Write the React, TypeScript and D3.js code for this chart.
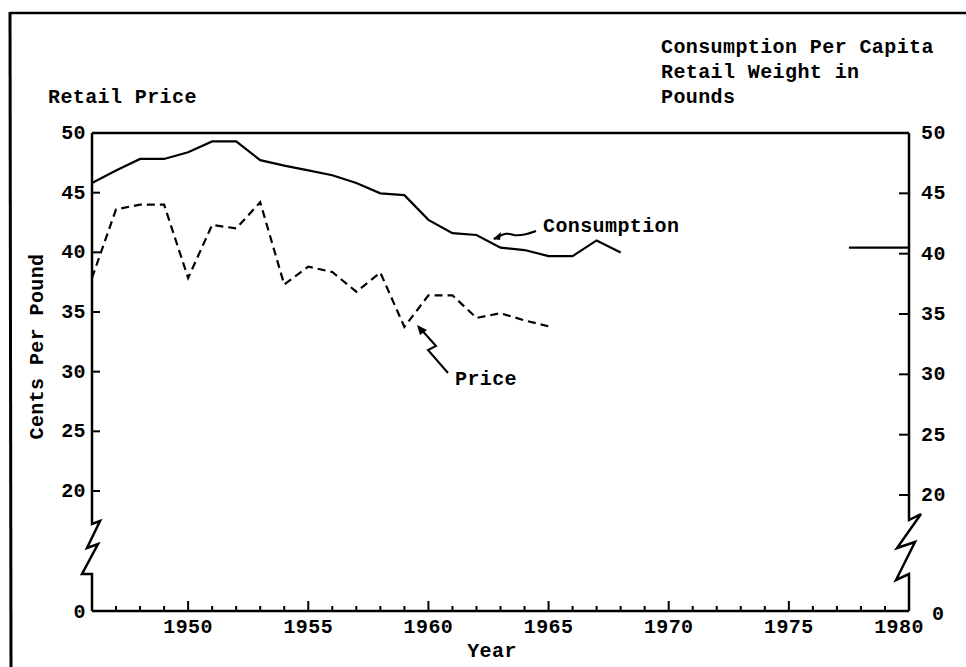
import React from "react";
import * as d3 from "d3";

// ---- data ----
const priceYears = [1946,1947,1948,1949,1950,1951,1952,1953,1954,1955,1956,1957,1958,1959,1960,1961,1962,1963,1964,1965];
const priceValues = [37.85,43.6,44.0,44.0,37.85,42.3,42.0,44.2,37.3,38.8,38.35,36.7,38.3,33.75,36.4,36.4,34.5,34.9,34.3,33.8];

const consYears = [1946,1947,1948,1949,1950,1951,1952,1953,1954,1955,1956,1957,1958,1959,1960,1961,1962,1963,1964,1965,1966,1967,1968];
const consValues = [45.85,46.9,47.85,47.85,48.4,49.3,49.3,47.75,47.3,46.9,46.5,45.85,45.0,44.85,42.8,41.7,41.55,40.5,40.3,39.8,39.8,41.1,40.1];

const projYears = [1977.5, 1980];
const projValues = [40.5, 40.5];

const yTicks = [20, 25, 30, 35, 40, 45, 50];
const xLabelYears = [1950, 1955, 1960, 1965, 1970, 1975, 1980];
const xMinorYears = d3.range(1947, 1980);

const FONT = "'Liberation Mono', 'DejaVu Sans Mono', monospace";

export default function App() {
  const W = 966, H = 667;
  const x = d3.scaleLinear().domain([1946, 1980]).range([92, 909]);
  const yL = d3.scaleLinear().domain([20, 50]).range([491, 133]);
  const yR = d3.scaleLinear().domain([20, 50]).range([495, 133]);
  const baseY = 611;
  const x0 = x(1946), x1 = x(1980);

  const priceLine = d3.line<number>().x((_, i) => x(priceYears[i])).y((v) => yL(v));
  const consLine = d3.line<number>().x((_, i) => x(consYears[i])).y((v) => yR(v));
  const projLine = d3.line<number>().x((_, i) => x(projYears[i])).y((v) => yR(v));

  const leftAxisPath = `M${x0},${yL(50)} L${x0},524 L${x0 + 8},521 L${x0 - 5},548 L${x0 + 6},544 L${x0 - 10},574 L${x0},574 L${x0},${baseY}`;
  const rightAxisPath = `M${x1},${yR(50)} L${x1},520 L${x1 + 12},514 L${x1 - 12},548 L${x1 + 6},542 L${x1 - 13},580 L${x1},574 L${x1},${baseY}`;

  const txt = { fontFamily: FONT, fontSize: 20, letterSpacing: 0.4, fontWeight: "bold", fill: "#000" } as const;

  return (
    <svg width={W} height={H} style={{ position: "absolute", left: 0, top: 0, background: "#fff" }}>
      <rect x={0} y={0} width={W} height={H} fill="#fff" />
      {/* outer frame */}
      <line x1={10} y1={13} x2={W} y2={13} stroke="#000" strokeWidth={2.5} />
      <line x1={10} y1={12} x2={11} y2={H} stroke="#000" strokeWidth={3} />

      {/* titles */}
      <text x={48} y={103} {...txt}>Retail Price</text>
      <text x={661} y={53} {...txt}>Consumption Per Capita</text>
      <text x={661} y={78} {...txt}>Retail Weight in</text>
      <text x={661} y={103} {...txt}>Pounds</text>

      {/* plot frame */}
      <line x1={x0} y1={yL(50)} x2={x1} y2={yL(50)} stroke="#000" strokeWidth={2.5} />
      <path d={leftAxisPath} fill="none" stroke="#000" strokeWidth={2.5} strokeLinejoin="miter" />
      <path d={rightAxisPath} fill="none" stroke="#000" strokeWidth={2.5} strokeLinejoin="miter" />
      <line x1={x0} y1={baseY} x2={x1} y2={baseY} stroke="#000" strokeWidth={2.5} />

      {/* left y ticks */}
      {yTicks.map((t) => (
        <g key={"l" + t}>
          <line x1={x0} x2={x0 + 8} y1={yL(t)} y2={yL(t)} stroke="#000" strokeWidth={2} />
          <text x={86} y={yL(t) + 6} textAnchor="end" {...txt}>{t}</text>
        </g>
      ))}
      <text x={86} y={618} textAnchor="end" {...txt}>0</text>

      {/* right y ticks */}
      {yTicks.map((t) => (
        <g key={"r" + t}>
          <line x1={x1 - 10} x2={x1} y1={yR(t)} y2={yR(t)} stroke="#000" strokeWidth={2} />
          <text x={921} y={yR(t) + 6} textAnchor="start" {...txt}>{t}</text>
        </g>
      ))}
      <text x={932} y={620} textAnchor="start" {...txt}>0</text>

      {/* x ticks */}
      {xMinorYears.map((yr) => (
        <line key={"m" + yr} x1={x(yr)} x2={x(yr)} y1={baseY} y2={baseY - (yr % 5 === 0 ? 10 : 5)} stroke="#000" strokeWidth={2} />
      ))}
      {xLabelYears.map((yr) => (
        <text key={"x" + yr} x={yr === 1980 ? x(yr) - 10 : x(yr)} y={633} textAnchor="middle" {...txt}>{yr}</text>
      ))}
      <text x={492} y={657} textAnchor="middle" {...txt}>Year</text>

      {/* y axis title */}
      <text transform="translate(43,346.5) rotate(-90)" textAnchor="middle" {...txt}>Cents Per Pound</text>

      {/* series */}
      <path d={consLine(consValues) || ""} fill="none" stroke="#000" strokeWidth={2.2} />
      <path d={priceLine(priceValues) || ""} fill="none" stroke="#000" strokeWidth={2.2} strokeDasharray="8 5" />
      <path d={projLine(projValues) || ""} fill="none" stroke="#000" strokeWidth={2.2} />

      {/* annotations */}
      <text x={543} y={232} {...txt}>Consumption</text>
      <path d="M536,231 C528,234 520,236 514,235 C508,233 504,233 498,237 L494,239" fill="none" stroke="#000" strokeWidth={2} />
      <path d="M493,239 L501,232 L500,240 Z" fill="#000" />
      <text x={455} y={385} {...txt}>Price</text>
      <path d="M448,373 L428,350 L436,346 L419,327" fill="none" stroke="#000" strokeWidth={2} />
      <path d="M417,325 L427,330 L420,335 Z" fill="#000" />
    </svg>
  );
}
